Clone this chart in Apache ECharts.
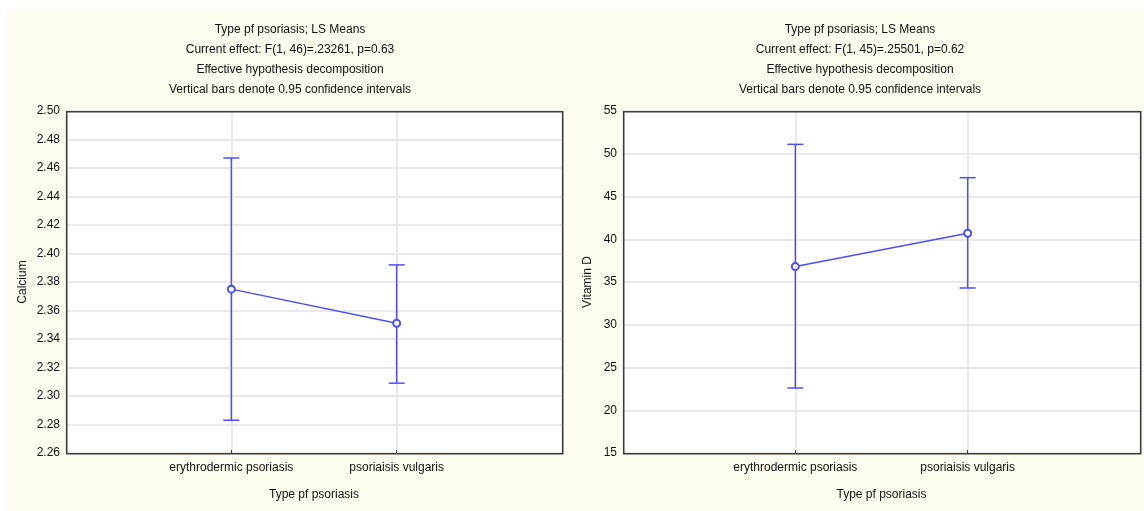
<!DOCTYPE html>
<html>
<head>
<meta charset="utf-8">
<title>Type pf psoriasis; LS Means</title>
<script src="https://cdn.jsdelivr.net/npm/echarts@6/dist/echarts.min.js"></script>
<style>
  html, body { margin: 0; padding: 0; background: #ffffff; }
  #wrap { position: relative; width: 1144px; height: 511px; }
  .panel { position: absolute; top: 9px; height: 502px; background: #fefbef; }
  #chart { position: absolute; left: 0; top: 0; width: 1144px; height: 511px; }
</style>
</head>
<body>
<div id="wrap">
  <div class="panel" style="left:7px;width:565px;"></div>
  <div class="panel" style="left:572px;width:572px;"></div>
  <div id="chart"></div>
</div>
<script>
// Groups on the horizontal axis
const categories = ['erythrodermic psoriasis', 'psoriaisis vulgaris'];
const xAxisName = 'Type pf psoriasis';

// Calcium: LS means with 0.95 confidence limits
const calciumMean = [2.375, 2.351];
const calciumLow = [2.283, 2.309];
const calciumHigh = [2.467, 2.392];
const calciumTitle = [
  'Type pf psoriasis; LS Means',
  'Current effect: F(1, 46)=.23261, p=0.63',
  'Effective hypothesis decomposition',
  'Vertical bars denote 0.95 confidence intervals'
];

// Vitamin D: LS means with 0.95 confidence limits
const vitdMean = [36.8, 40.7];
const vitdLow = [22.6, 34.3];
const vitdHigh = [51.1, 47.2];
const vitdTitle = [
  'Type pf psoriasis; LS Means',
  'Current effect: F(1, 45)=.25501, p=0.62',
  'Effective hypothesis decomposition',
  'Vertical bars denote 0.95 confidence intervals'
];

const FONT = '"Liberation Sans", Arial, sans-serif';
const FS = 12;
const TEXT = '#111111';
const BLUE = '#4d4dff';
const FRAME = '#3c3c3c';

const chart = echarts.init(document.getElementById('chart'));

function xAxisFor(gridIndex) {
  return {
    type: 'value', gridIndex: gridIndex,
    min: 0, max: categories.length + 1, interval: 1,
    name: xAxisName, nameLocation: 'middle', nameGap: 36,
    nameTextStyle: { fontFamily: FONT, fontSize: FS, color: TEXT },
    axisLine: { show: false },
    axisTick: { show: true, inside: true, length: 3, lineStyle: { color: FRAME, width: 1 } },
    axisLabel: {
      fontFamily: FONT, fontSize: FS, color: TEXT, margin: 9,
      formatter: function (v) { return categories[v - 1] || ''; }
    },
    splitLine: { show: true, lineStyle: { color: '#e2e2e2', width: 1.5 } }
  };
}

function yAxisFor(gridIndex, name, min, max, interval, decimals, gap) {
  return {
    type: 'value', gridIndex: gridIndex,
    min: min, max: max, interval: interval,
    name: name, nameLocation: 'middle', nameGap: gap,
    nameTextStyle: { fontFamily: FONT, fontSize: FS, color: TEXT },
    axisLine: { show: false },
    axisTick: { show: false },
    axisLabel: {
      fontFamily: FONT, fontSize: FS, color: TEXT, margin: 6,
      formatter: function (v) { return v.toFixed(decimals); }
    },
    splitLine: { show: true, lineStyle: { color: '#e2e2e2', width: 1.5 } }
  };
}

function pairs(values) {
  return values.map(function (v, i) { return [i + 1, v]; });
}

function errorData(low, high) {
  return low.map(function (lo, i) { return [i + 1, lo, high[i]]; });
}

function errorBars(gridIndex, low, high) {
  return {
    type: 'custom', xAxisIndex: gridIndex, yAxisIndex: gridIndex,
    data: errorData(low, high),
    z: 3,
    renderItem: function (params, api) {
      const x = api.value(0);
      const lo = api.coord([x, api.value(1)]);
      const hi = api.coord([x, api.value(2)]);
      const cap = 8;
      const style = { stroke: BLUE, lineWidth: 1.5 };
      return {
        type: 'group',
        children: [
          { type: 'line', shape: { x1: lo[0], y1: lo[1], x2: hi[0], y2: hi[1] }, style: style },
          { type: 'line', shape: { x1: hi[0] - cap, y1: hi[1], x2: hi[0] + cap, y2: hi[1] }, style: style },
          { type: 'line', shape: { x1: lo[0] - cap, y1: lo[1], x2: lo[0] + cap, y2: lo[1] }, style: style }
        ]
      };
    }
  };
}

function meanLine(gridIndex, values) {
  return {
    type: 'line', xAxisIndex: gridIndex, yAxisIndex: gridIndex,
    data: pairs(values), z: 4,
    symbol: 'emptyCircle', symbolSize: 7,
    lineStyle: { color: BLUE, width: 1.5 },
    itemStyle: { color: BLUE, borderColor: BLUE, borderWidth: 1.5 },
    animation: false
  };
}

function titleFor(lines, centerX) {
  return {
    text: lines.join('\n'),
    left: centerX, top: 20, textAlign: 'center', padding: 0,
    textStyle: { fontFamily: FONT, fontSize: FS, fontWeight: 'normal', color: TEXT, lineHeight: 20 }
  };
}

// Plot frames drawn on top of the grid lines
function frame(left, top, width, height) {
  return {
    type: 'rect', left: left, top: top, z: 100, silent: true,
    shape: { width: width, height: height },
    style: { fill: 'transparent', stroke: FRAME, lineWidth: 1.5 }
  };
}

chart.setOption({
  backgroundColor: 'transparent',
  animation: false,
  title: [titleFor(calciumTitle, 290), titleFor(vitdTitle, 860)],
  grid: [
    { left: 66, top: 111, width: 496, height: 342, show: true, backgroundColor: '#ffffff', borderWidth: 0 },
    { left: 623, top: 111, width: 517, height: 342, show: true, backgroundColor: '#ffffff', borderWidth: 0 }
  ],
  graphic: [frame(66, 111, 496, 342), frame(623, 111, 517, 342)],
  xAxis: [xAxisFor(0), xAxisFor(1)],
  yAxis: [
    yAxisFor(0, 'Calcium', 2.26, 2.50, 0.02, 2, 37),
    yAxisFor(1, 'Vitamin D', 15, 55, 5, 0, 29)
  ],
  series: [
    errorBars(0, calciumLow, calciumHigh),
    meanLine(0, calciumMean),
    errorBars(1, vitdLow, vitdHigh),
    meanLine(1, vitdMean)
  ]
});
</script>
</body>
</html>
